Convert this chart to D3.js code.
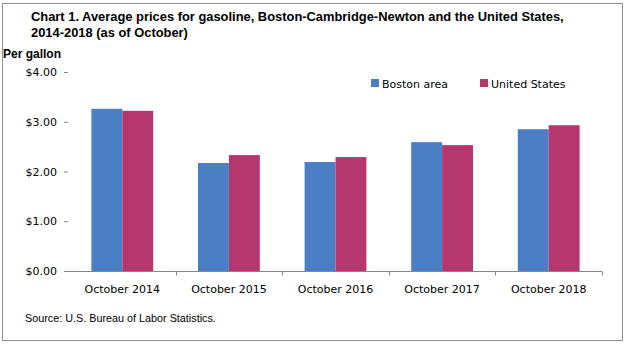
<!DOCTYPE html>
<html>
<head>
<meta charset="utf-8">
<script src="https://cdn.jsdelivr.net/npm/d3@7"></script>
<style>
  body { margin: 0; background: #fff; }
  svg { display: block; }
</style>
</head>
<body>
<div id="chart"></div>
<script>
const CATEGORIES = ['October 2014', 'October 2015', 'October 2016', 'October 2017', 'October 2018'];
const SERIES_NAMES = ['Boston area', 'United States'];
const BOSTON = [3.26, 2.17, 2.19, 2.59, 2.85];
const US = [3.22, 2.33, 2.29, 2.53, 2.93];
const Y_TICKS = [0, 1, 2, 3, 4];

const COLORS = ['#4a7fc5', '#b6376d'];
const WIDTH = 627;
const HEIGHT = 350;
const PLOT = { left: 69, right: 602, top: 72, bottom: 271 };
const AXIS_FONT = 'Tahoma, "DejaVu Sans", sans-serif';
const NARROW_FONT = '"Liberation Sans Narrow", "Arial Narrow", "Liberation Sans", sans-serif';

const svg = d3.select('#chart')
	.append('svg')
		.attr('width', WIDTH)
		.attr('height', HEIGHT);

// outer frame
svg.append('rect')
	.attr('x', 2.5).attr('y', 3.5)
	.attr('width', 620).attr('height', 337)
	.attr('fill', 'none')
	.attr('stroke', '#8f8f8f');

// title
const title = svg.append('text')
	.attr('font-family', NARROW_FONT)
	.attr('font-weight', 'bold')
	.attr('font-size', 12.9)
	.attr('fill', '#000');
title.append('tspan').attr('x', 31).attr('y', 21)
	.text('Chart 1. Average prices for gasoline, Boston-Cambridge-Newton  and the United  States,');
title.append('tspan').attr('x', 31).attr('y', 37)
	.text('2014-2018 (as of October)');

svg.append('text')
	.attr('x', 3).attr('y', 58)
	.attr('font-family', NARROW_FONT)
	.attr('font-weight', 'bold')
	.attr('font-size', 12)
	.text('Per gallon');

const x0 = d3.scaleBand()
	.domain(CATEGORIES)
	.range([PLOT.left, PLOT.right])
	.paddingInner(0.42)
	.paddingOuter(0.21);

const x1 = d3.scaleBand()
	.domain(SERIES_NAMES)
	.range([0, x0.bandwidth()]);

const y = d3.scaleLinear()
	.domain([0, 4])
	.range([PLOT.bottom, PLOT.top]);

// y axis: ticks and labels only
const yAxis = svg.append('g')
	.attr('transform', `translate(${PLOT.left - 1}, 0)`)
	.call(d3.axisLeft(y).tickValues(Y_TICKS).tickSize(4).tickPadding(7)
		.tickFormat(d => '$' + d3.format('.2f')(d)));
yAxis.select('.domain').remove();
yAxis.selectAll('line').attr('stroke', '#868686');
yAxis.selectAll('text')
	.attr('font-family', AXIS_FONT)
	.attr('font-size', 11)
	.attr('fill', '#000');

// bars
const groups = svg.append('g').selectAll('g')
	.data(CATEGORIES)
	.enter()
	.append('g')
		.attr('transform', d => `translate(${x0(d)}, 0)`);

groups.selectAll('rect')
	.data((d, i) => [
		{ name: SERIES_NAMES[0], value: BOSTON[i], color: COLORS[0] },
		{ name: SERIES_NAMES[1], value: US[i], color: COLORS[1] }
	])
	.enter()
	.append('rect')
		.attr('x', d => x1(d.name))
		.attr('width', x1.bandwidth())
		.attr('y', d => y(d.value))
		.attr('height', d => y(0) - y(d.value))
		.attr('fill', d => d.color);

// x axis
const xEdges = d3.scaleLinear()
	.domain([0, CATEGORIES.length])
	.range([PLOT.left, PLOT.right]);

const xAxis = svg.append('g').attr('transform', `translate(0, ${PLOT.bottom + 0.5})`);
xAxis.append('line')
	.attr('x1', PLOT.left - 5).attr('x2', PLOT.right)
	.attr('stroke', '#868686');
xAxis.selectAll('line.tick')
	.data(d3.range(1, CATEGORIES.length + 1))
	.enter()
	.append('line')
		.attr('class', 'tick')
		.attr('x1', d => Math.round(xEdges(d)) + 0.5)
		.attr('x2', d => Math.round(xEdges(d)) + 0.5)
		.attr('y1', 0).attr('y2', 4)
		.attr('stroke', '#868686');
xAxis.selectAll('text')
	.data(CATEGORIES)
	.enter()
	.append('text')
		.attr('x', d => x0(d) + x0.bandwidth() / 2)
		.attr('y', 21)
		.attr('text-anchor', 'middle')
		.attr('font-family', AXIS_FONT)
		.attr('font-size', 11)
		.text(d => d);

// legend
const legend = svg.append('g');
const legendX = [371, 480];
SERIES_NAMES.forEach((name, i) => {
	legend.append('rect')
		.attr('x', legendX[i]).attr('y', 79)
		.attr('width', 8).attr('height', 8)
		.attr('fill', COLORS[i]);
	legend.append('text')
		.attr('x', legendX[i] + 11).attr('y', 87.5)
		.attr('font-family', AXIS_FONT)
		.attr('font-size', 11)
		.text(name);
});

// source
svg.append('text')
	.attr('x', 25).attr('y', 322)
	.attr('font-family', NARROW_FONT)
	.attr('font-size', 10.8)
	.text('Source: U.S. Bureau of Labor Statistics.');
</script>
</body>
</html>
